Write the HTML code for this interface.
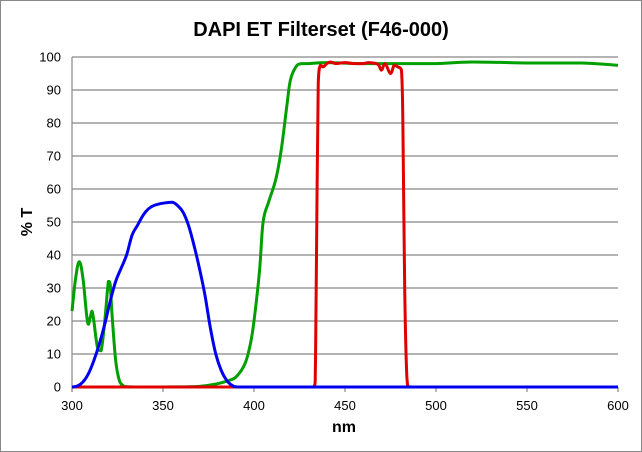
<!DOCTYPE html>
<html><head><meta charset="utf-8"><style>
body{margin:0;background:#fff}
svg{display:block;font-family:"Liberation Sans",Arial,sans-serif}
</style></head><body>
<svg id="c" width="642" height="452">
<rect x="0.5" y="0.5" width="641" height="451" fill="#fff" stroke="#888"/>
<text x="321" y="36" text-anchor="middle" font-size="20" font-weight="bold">DAPI ET Filterset (F46-000)</text>
<g id="grid"></g><g id="ticks"></g><g id="series"></g>
<text x="344" y="432" text-anchor="middle" font-size="16" font-weight="bold">nm</text>
<text transform="translate(32,222) rotate(-90)" text-anchor="middle" font-size="16" font-weight="bold">% T</text>
</svg>
<script>
const xTicks=[300,350,400,450,500,550,600];
const yTicks=[0,10,20,30,40,50,60,70,80,90,100];
const greenNm=[300,302,304,306,308,309,310,311,312,314,316,318,320,321,322,324,326,328,330,340,350,370,380,385,390,395,398,400,403,405,408,412,415,418,420,423,426,430,440,460,480,500,520,550,580,600];
const greenT=[23,33,38,33,22,19,21,23,20,12,11,20,32,31,22,8,2,0.5,0.1,0,0,0.2,1,1.8,3,7,13,20,35,50,56,63,72,85,93,97,98,98,98.3,98,98,98,98.5,98.2,98.2,97.5];
const blueNm=[300,303,306,309,312,315,318,321,324,327,330,333,336,339,342,345,350,355,358,361,364,367,370,373,376,379,382,385,388,392,600];
const blueT=[0,0.3,1.5,4,8,13,19,26,32,36,40,46,49,52,54,55,55.7,56,55,53,49,43,36,28,18,10,5,2,0.5,0,0];
const redNm=[300,433,433.8,434.5,435.3,436.5,438,440,442,445,450,455,460,463,468,470,472,475,477,479,481,481.8,482.8,484,485.5,600];
const redT=[0,0,8,50,92,97.5,97,98,98.5,98,98.3,98,98,98.3,97.8,96,98,95,97.5,97,96,80,30,3,0,0];
const X=v=>72+(v-300)*546/300, Y=v=>387-v*3.3;
const NS="http://www.w3.org/2000/svg";
function mk(t,a,p){const e=document.createElementNS(NS,t);for(const k in a)e.setAttribute(k,a[k]);p.appendChild(e);return e;}
const g=document.getElementById('grid'),tk=document.getElementById('ticks'),s=document.getElementById('series');
yTicks.forEach(v=>{
 const l=mk('line',{x1:72,x2:618,y1:Y(v),y2:Y(v),stroke:'#888','stroke-width':1.2},g);
 
 
 const t=mk('text',{x:61,y:Y(v)+4.5,'text-anchor':'end','font-size':13},tk);t.textContent=v;
 
 
});
const ax=mk('line',{x1:72,x2:72,y1:57,y2:392,stroke:'#888','stroke-width':1.2},g);


xTicks.forEach(v=>{
 const l=mk('line',{x1:X(v),x2:X(v),y1:387,y2:392,stroke:'#888','stroke-width':1.2},g);
 
 
 const t=mk('text',{x:X(v),y:410,'text-anchor':'middle','font-size':13},tk);t.textContent=v;
 
 
});
const cl=(v,a,b)=>Math.min(Math.max(v,Math.min(a,b)),Math.max(a,b));
function line(nm,tv,col,name){
 const P=nm.map((v,i)=>[X(v),Y(tv[i])]);
 let d='M'+P[0][0]+','+P[0][1];
 for(let i=0;i<P.length-1;i++){
  const p0=P[Math.max(i-1,0)],p1=P[i],p2=P[i+1],p3=P[Math.min(i+2,P.length-1)];
  const k=0.18;
  const c1=[p1[0]+(p2[0]-p0[0])*k,p1[1]+(p2[1]-p0[1])*k];
  const c2=[p2[0]-(p3[0]-p1[0])*k,p2[1]-(p3[1]-p1[1])*k];
  c1[0]=cl(c1[0],p1[0],p2[0]);c2[0]=cl(c2[0],p1[0],p2[0]);
  c1[1]=cl(c1[1],p1[1],p2[1]);c2[1]=cl(c2[1],p1[1],p2[1]);
  d+=' C'+c1[0]+','+c1[1]+' '+c2[0]+','+c2[1]+' '+p2[0]+','+p2[1];
 }
 const p=mk('path',{d:d,fill:'none',stroke:col,'stroke-width':3,'stroke-linejoin':'round'},s);
 
 
}
line(greenNm,greenT,'#00a000','dichroic-series');
line(redNm,redT,'#e00000','emission-series');
line(blueNm,blueT,'#0000ee','excitation-series');
</script>
</body></html>
